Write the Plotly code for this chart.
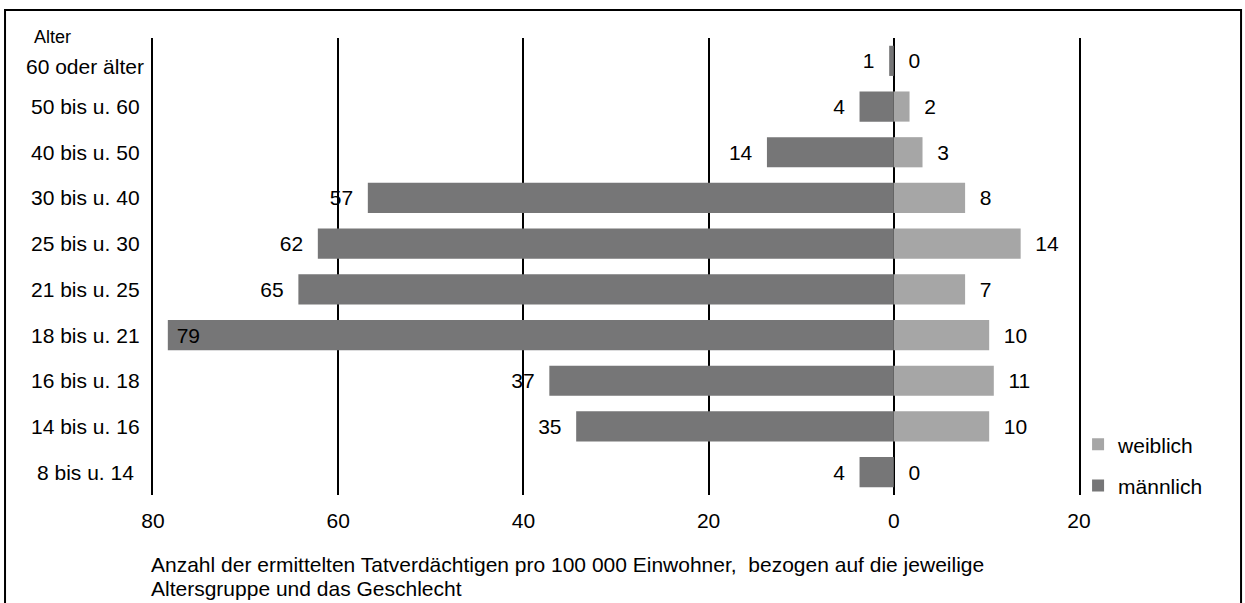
import plotly.graph_objects as go

# age groups, top to bottom
groups = [
    "60 oder älter", "50 bis u. 60", "40 bis u. 50", "30 bis u. 40", "25 bis u. 30",
    "21 bis u. 25", "18 bis u. 21", "16 bis u. 18", "14 bis u. 16", "8 bis u. 14",
]
maennlich = [0.5, 3.7, 13.7, 56.8, 62.2, 64.3, 78.4, 37.2, 34.3, 3.7]
maennlich_label = ["1", "4", "14", "57", "62", "65", "79", "37", "35", "4"]
weiblich = [0.0, 1.7, 3.1, 7.7, 13.7, 7.7, 10.3, 10.8, 10.3, 0.0]
weiblich_label = ["0", "2", "3", "8", "14", "7", "10", "11", "10", "0"]

tick_vals = [-80, -60, -40, -20, 0, 20]
tick_text = ["80", "60", "40", "20", "0", "20"]

title_lines = [
    "Anzahl der ermittelten Tatverdächtigen pro 100 000 Einwohner,\u00a0 bezogen auf die jeweilige",
    "Altersgruppe und das Geschlecht",
]

FONT = "Liberation Sans, Arial, sans-serif"
FS = 21
NB = "\u00a0"

# outside labels get a little gap, the one that does not fit goes inside
m_text, m_pos = [], []
for v, s in zip(maennlich, maennlich_label):
    if v > 75:
        m_text.append(NB + s)
        m_pos.append("inside")
    else:
        m_text.append(s + NB + NB)
        m_pos.append("outside")
w_text = [NB + NB + s for s in weiblich_label]

fig = go.Figure()
fig.add_trace(go.Bar(
    y=groups, x=weiblich, orientation="h", name="weiblich",
    marker=dict(color="#a6a6a6", line=dict(width=0)),
    text=w_text, textposition="outside", cliponaxis=False,
    textfont=dict(family=FONT, size=FS, color="black"),
    legendgroup="w",
))
fig.add_trace(go.Bar(
    y=groups, x=[-v for v in maennlich], orientation="h", name="männlich",
    marker=dict(color="#767677", line=dict(width=0)),
    text=m_text, textposition=m_pos, insidetextanchor="end", cliponaxis=False,
    textfont=dict(family=FONT, size=FS, color="black"),
    insidetextfont=dict(family=FONT, size=FS, color="black"),
    outsidetextfont=dict(family=FONT, size=FS, color="black"),
    legendgroup="m",
))

# category labels centred left of the plot
annotations = [
    dict(x=-0.073, y=g, xref="paper", yref="y", text=g, showarrow=False,
         xanchor="center", yshift=-6 if i == 0 else 0,
         font=dict(family=FONT, size=FS, color="black"))
    for i, g in enumerate(groups)
]
annotations.append(dict(x=-0.109, y=1.002, xref="paper", yref="paper", text="Alter",
                        showarrow=False, xanchor="center", yanchor="middle",
                        font=dict(family=FONT, size=18, color="black")))
# axis description below the ticks, two lines
for line, ypos in zip(title_lines, [-0.152, -0.205]):
    annotations.append(dict(
        x=-0.004, y=ypos, xref="paper", yref="paper", xanchor="left", yanchor="middle",
        text=line, showarrow=False, font=dict(family=FONT, size=FS, color="black"),
    ))

fig.update_layout(
    width=1245, height=603,
    margin=dict(l=153, r=166, t=38, b=108),
    barmode="relative", bargap=0.34,
    plot_bgcolor="white", paper_bgcolor="white",
    font=dict(family=FONT, size=FS, color="black"),
    showlegend=True,
    legend=dict(x=0.999, y=0.155, xanchor="left", yanchor="top", traceorder="grouped",
                tracegroupgap=11, font=dict(family=FONT, size=FS, color="black"),
                bgcolor="rgba(0,0,0,0)"),
    xaxis=dict(range=[-80, 20], tickvals=tick_vals, ticktext=tick_text,
               showgrid=True, gridcolor="black", gridwidth=2,
               zeroline=True, zerolinecolor="black", zerolinewidth=2,
               showline=False, ticks="", ticklabelstandoff=11,
               tickfont=dict(family=FONT, size=FS, color="black")),
    yaxis=dict(autorange="reversed", showticklabels=False, showgrid=False, zeroline=False,
               showline=True, mirror=True, linecolor="black", linewidth=2, ticks=""),
    annotations=annotations,
    shapes=[dict(type="rect", xref="paper", yref="paper", x0=-0.1598, x1=1.175,
                 y0=-0.26, y1=1.061, line=dict(color="black", width=2), layer="below")],
)

# drop the default 8px page margin so the figure sits at the window's corner
fig.write_html(
    "out.html",
    config={"displayModeBar": False},
    post_script="document.body.style.margin = '0';",
)
